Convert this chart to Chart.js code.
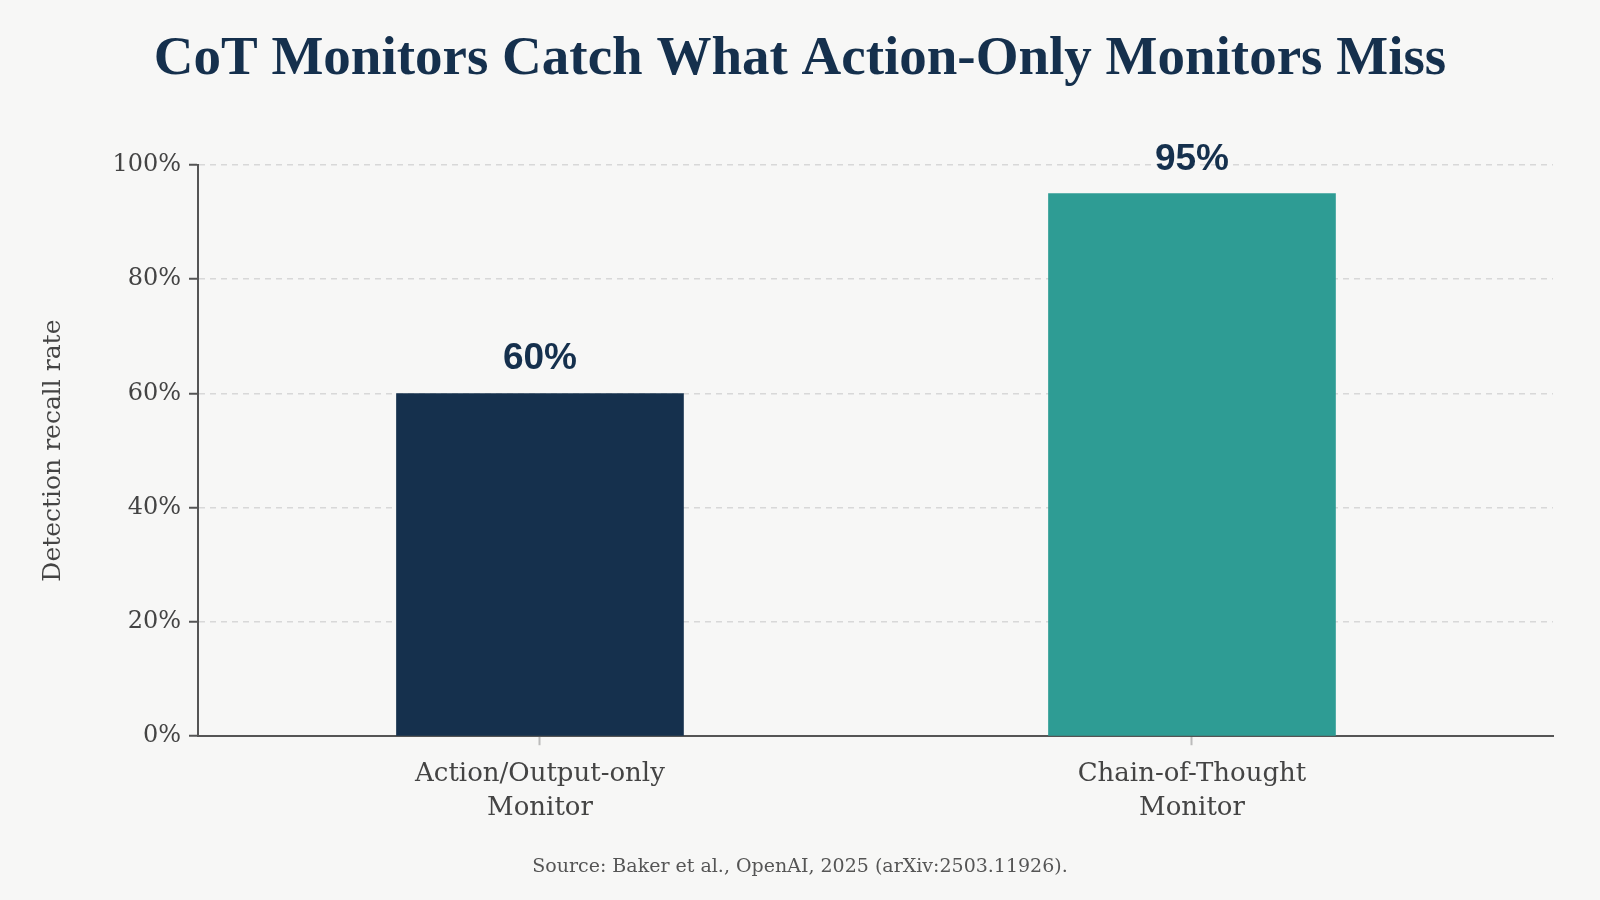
<!DOCTYPE html>
<html>
<head>
<meta charset="utf-8">
<title>CoT Monitors Catch What Action-Only Monitors Miss</title>
<script src="https://cdn.jsdelivr.net/npm/chart.js@4.4.1/dist/chart.umd.min.js"></script>
<style>
  html, body { margin: 0; padding: 0; background: #f7f7f6; }
  #wrap { width: 1600px; height: 900px; }
</style>
</head>
<body>
<div id="wrap"><canvas id="chart" width="1600" height="900"></canvas></div>
<script>
// chart data
const categories = ['Action/Output-only Monitor', 'Chain-of-Thought Monitor'];
const categoryLines = [['Action/Output-only', 'Monitor'], ['Chain-of-Thought', 'Monitor']];
const recallRates = [60, 95];
const barColors = ['#15304d', '#2e9c94'];
const yTicks = [0, 20, 40, 60, 80, 100];

const serif = "'DejaVu Serif', serif";

// bar value labels drawn above each bar
const valueLabels = {
    id: 'valueLabels',
    afterDatasetsDraw(chart) {
        const ctx = chart.ctx;
        const meta = chart.getDatasetMeta(0);
        ctx.save();
        ctx.font = "bold 37px 'Liberation Sans', Arial, sans-serif";
        ctx.fillStyle = '#15304d';
        ctx.textAlign = 'center';
        ctx.textBaseline = 'alphabetic';
        meta.data.forEach(function(bar, i) {
            ctx.fillText(recallRates[i] + '%', bar.x, bar.y - 24);
        });
        ctx.restore();
    }
};

const ctx = document.getElementById('chart').getContext('2d');
const chart = new Chart(ctx, {
    type: 'bar',
    data: {
        datasets: [{
            data: recallRates.map((v, i) => ({ x: i, y: v })),
            backgroundColor: barColors,
            borderWidth: 0,
            barThickness: 287
        }]
    },
    plugins: [valueLabels],
    options: {
        responsive: false,
        animation: false,
        layout: { padding: { left: 47, right: 47, top: 0, bottom: 0 } },
        plugins: {
            legend: { display: false },
            tooltip: { enabled: false },
            title: {
                display: true,
                text: 'CoT Monitors Catch What Action-Only Monitors Miss',
                color: '#15304d',
                font: { family: "'Liberation Serif', serif", size: 55, weight: 'bold' },
                padding: { top: 27, bottom: 72 }
            },
            subtitle: {
                display: true,
                position: 'bottom',
                text: 'Source: Baker et al., OpenAI, 2025 (arXiv:2503.11926).',
                color: '#555555',
                font: { family: serif, size: 19 },
                padding: { top: 0, bottom: 22 }
            }
        },
        scales: {
            x: {
                type: 'linear',
                min: -0.5245,
                max: 1.5537,
                offset: false,
                afterBuildTicks: function(scale) {
                    scale.ticks = categories.map((c, i) => ({ value: i }));
                },
                afterFit: function(scale) { scale.height = 119; },
                ticks: {
                    color: '#444444',
                    font: { family: serif, size: 26, lineHeight: 1.3 },
                    padding: 12,
                    maxRotation: 0,
                    callback: function(value) { return categoryLines[value] || ''; }
                },
                grid: {
                    offset: false,
                    drawOnChartArea: false,
                    drawTicks: true,
                    tickLength: 9,
                    tickColor: '#bbbbbb',
                    tickWidth: 2
                },
                border: { display: true, color: '#555555', width: 2 }
            },
            y: {
                min: 0,
                max: 100,
                afterBuildTicks: function(scale) {
                    scale.ticks = yTicks.map(v => ({ value: v }));
                },
                afterFit: function(scale) { scale.width = 151; },
                ticks: {
                    color: '#444444',
                    font: { family: serif, size: 24 },
                    padding: 8,
                    callback: function(value) { return value + '%'; }
                },
                grid: {
                    color: '#d8d8d8',
                    lineWidth: 1.5,
                    drawTicks: true,
                    tickLength: 9,
                    tickColor: '#555555',
                    tickWidth: 2,
                    tickBorderDash: []
                },
                border: { display: true, color: '#555555', width: 2, dash: [6, 5] },
                title: {
                    display: true,
                    text: 'Detection recall rate',
                    color: '#444444',
                    font: { family: serif, size: 25 },
                    padding: { top: -9, bottom: 0 }
                }
            }
        }
    }
});
</script>
</body>
</html>
